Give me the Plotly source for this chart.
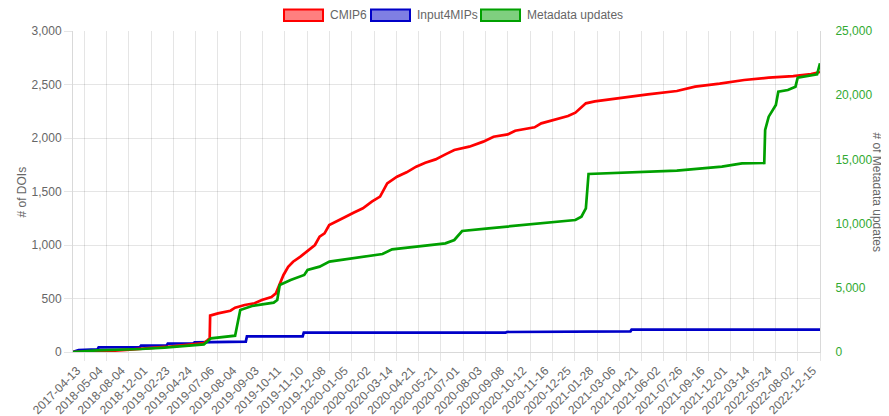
import plotly.graph_objects as go

# Category labels shown on the x axis (every displayed tick of the category axis)
tick_labels = ["2017-04-13", "2018-05-04", "2018-08-04", "2018-12-01", "2019-02-23",
               "2019-04-24", "2019-07-06", "2019-08-04", "2019-09-03", "2019-10-11",
               "2019-11-10", "2019-12-08", "2020-01-05", "2020-02-02", "2020-03-14",
               "2020-04-21", "2020-05-21", "2020-07-01", "2020-08-03", "2020-09-08",
               "2020-10-12", "2020-11-16", "2020-12-25", "2021-01-28", "2021-03-06",
               "2021-04-21", "2021-06-02", "2021-07-26", "2021-09-16", "2021-12-01",
               "2022-03-14", "2022-05-24", "2022-08-02", "2022-12-15"]

series_names = ["CMIP6", "Input4MIPs", "Metadata updates"]

# Series positions are expressed in category-label units (0 = first label)
cmip6_pos = [0, 1.1, 2.4, 3.27, 4.14, 5.0, 5.87, 6.04, 6.13, 6.15, 6.5, 7.06, 7.27, 7.7,
             8.14, 8.47, 8.9, 9.1, 9.27, 9.44, 9.65, 9.87, 10.2, 10.52, 10.85, 11.06,
             11.28, 11.49, 11.82, 12.14, 12.58, 13.0, 13.4, 13.77, 14.09, 14.53, 14.96,
             15.39, 15.8, 16.26, 16.7, 17.1, 17.77, 18.4, 18.86, 19.5, 19.83, 20.7, 21.0,
             21.67, 22.2, 22.53, 22.75, 23.0, 23.4, 24.7, 25.78, 27.08, 27.9, 29.0, 30.1,
             31.2, 32.3, 33.1, 33.5]
cmip6_vals = [0, 3, 19, 31, 47, 65, 84, 112, 128, 340, 361, 386, 414, 439,
              455, 486, 514, 548, 626, 720, 797, 844, 891, 944, 1000, 1078,
              1109, 1187, 1218, 1255, 1302, 1343, 1405, 1452, 1576, 1638, 1679,
              1732, 1769, 1800, 1847, 1888, 1919, 1966, 2012, 2034, 2068, 2100, 2137,
              2177, 2205, 2237, 2277, 2324, 2342, 2380, 2408, 2439, 2480, 2508, 2542,
              2564, 2579, 2598, 2617]

input4mips_pos = [0, 0.25, 1.1, 1.15, 3.0, 3.05, 4.2, 4.25, 5.4, 5.45, 7.75, 7.8,
                  10.3, 10.35, 19.4, 19.45, 25.0, 25.05, 33.5]
input4mips_vals = [0, 19, 25, 44, 46, 59, 62, 78, 82, 90, 97, 146,
                   146, 181, 181, 187, 193, 209, 209]

metadata_pos = [0, 1.1, 3.05, 4.1, 5.87, 6.19, 7.27, 7.38, 7.5, 8.03, 9.0, 9.16, 9.27,
                9.76, 10.37, 10.52, 11.06, 11.5, 12.8, 13.88, 14.31, 15.39, 16.7, 17.1,
                17.45, 18.64, 20.15, 21.45, 22.53, 22.8, 23.0, 23.12, 24.7, 27.08, 29.1,
                30.0, 31.0, 31.04, 31.2, 31.52, 31.63, 32.06, 32.4, 32.5, 33.37, 33.5]
metadata_vals = [0, 130, 234, 337, 597, 1064, 1272, 2233, 3271, 3582, 3842, 4050, 5218,
                 5607, 5997, 6386, 6646, 7035, 7347, 7632, 7996, 8203, 8463, 8723,
                 9423, 9631, 9891, 10098, 10280, 10540, 11189, 13863, 13967, 14122, 14434,
                 14694, 14719, 17289, 18328, 19236, 20275, 20405, 20664, 21365, 21625, 22481]

line_colors = ["rgb(255,0,0)", "rgb(0,0,200)", "rgb(0,160,0)"]
fill_colors = ["rgba(255,0,0,0.5)", "rgba(0,0,200,0.5)", "rgba(0,160,0,0.5)"]

# ---- layout geometry (page pixels; page has an 8px body margin) ----
PAGE_OFF = 8
FIG_W, FIG_H = 889 - PAGE_OFF, 416 - PAGE_OFF
PLOT_L, PLOT_R, PLOT_T, PLOT_B = 73, 820, 31, 352  # plot area in page pixels
PW, PH = PLOT_R - PLOT_L, PLOT_B - PLOT_T


def px(xp):
    return (xp - PLOT_L) / PW


def py(yp):
    return (PLOT_B - yp) / PH


fig = go.Figure()
data = [(cmip6_pos, cmip6_vals, "y"), (input4mips_pos, input4mips_vals, "y"),
        (metadata_pos, metadata_vals, "y2")]
for i in [2, 1, 0]:
    xs, ys, yax = data[i]
    fig.add_trace(go.Scatter(x=xs, y=ys, mode="lines", name=series_names[i], yaxis=yax,
                             line=dict(color=line_colors[i], width=2.7), showlegend=False))

grid = "rgba(0,0,0,0.1)"
font_col = "#666666"

# Legend drawn as boxes + labels (Chart.js style)
legend_box_x = [284, 371, 481]
shapes, annotations = [], []
for i, name in enumerate(series_names):
    x0 = legend_box_x[i]
    shapes.append(dict(type="rect", xref="paper", yref="paper",
                       x0=px(x0), x1=px(x0 + 39), y0=py(21), y1=py(9.5),
                       fillcolor=fill_colors[i], line=dict(color=line_colors[i], width=2)))
    annotations.append(dict(text=name, xref="paper", yref="paper", x=px(x0 + 44),
                            y=py(15.5), xanchor="left", yanchor="middle", showarrow=False,
                            font=dict(size=12, color=font_col)))

annotations += [
    dict(text="# of DOIs", xref="paper", yref="paper", x=px(21), y=0.5,
         xanchor="center", yanchor="middle", textangle=-90, showarrow=False,
         font=dict(size=12, color=font_col)),
    dict(text="# of Metadata updates", xref="paper", yref="paper", x=px(877), y=0.5,
         xanchor="center", yanchor="middle", textangle=90, showarrow=False,
         font=dict(size=12, color=font_col)),
]

fig.update_layout(
    width=FIG_W, height=FIG_H,
    margin=dict(l=PLOT_L - PAGE_OFF, r=FIG_W - (PLOT_R - PAGE_OFF),
                t=PLOT_T - PAGE_OFF, b=FIG_H - (PLOT_B - PAGE_OFF), pad=0),
    paper_bgcolor="white", plot_bgcolor="white",
    font=dict(family="Liberation Sans, Arial, sans-serif", size=12, color=font_col),
    showlegend=False,
    shapes=shapes,
    annotations=annotations,
    xaxis=dict(range=[0, len(tick_labels) - 0.5], tickmode="array",
               tickvals=list(range(len(tick_labels))), ticktext=tick_labels,
               tickangle=-45, showgrid=False, ticks="", ticklabelstandoff=6,
               ticklabelshift=4,
               zeroline=False, showline=True, linecolor="rgba(0,0,0,0.15)",
               automargin=False, tickfont=dict(size=12, color=font_col),
               minor=dict(tickmode="array",
                          tickvals=[i + 0.5 for i in range(len(tick_labels))],
                          showgrid=True, gridcolor=grid, gridwidth=1,
                          ticks="outside", ticklen=8, tickcolor=grid)),
    yaxis=dict(range=[0, 3000], dtick=500, tickformat=",", showgrid=True,
               gridcolor=grid, zeroline=False, showline=True,
               linecolor="rgba(0,0,0,0.15)", ticks="outside", ticklen=8,
               tickcolor=grid, automargin=False, tickfont=dict(size=12, color=font_col)),
    yaxis2=dict(range=[0, 25000], dtick=5000, tickformat=",", overlaying="y",
                side="right", showgrid=False, zeroline=False, showline=True,
                linecolor="rgba(0,0,0,0.15)", ticks="", ticklabelstandoff=12,
                automargin=False, tickfont=dict(size=12, color="rgb(50,170,50)")),
)

fig.write_html("out.html")
